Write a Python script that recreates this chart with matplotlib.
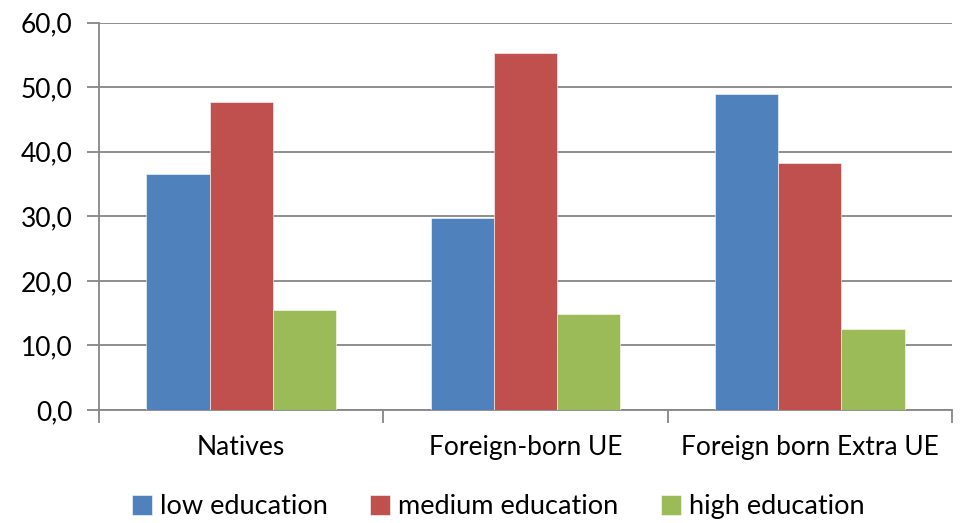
import numpy as np
import matplotlib.pyplot as plt
from matplotlib.ticker import FuncFormatter, FixedLocator

plt.rcParams['font.family'] = ['Lato', 'DejaVu Sans']

# shares by education level (%)
groups = ['Natives', 'Foreign-born UE', 'Foreign born Extra UE']
series = ['low education', 'medium education', 'high education']
low = [36.5, 29.8, 49.0]
medium = [47.7, 55.3, 38.3]
high = [15.5, 14.8, 12.6]
colors = ['#4F81BD', '#C0504D', '#9BBB59']

fig = plt.figure(figsize=(9.6, 5.23), dpi=100)
ax = fig.add_axes([0.1031, 0.2161, 0.8886, 0.7405])

x = np.arange(len(groups))
w = 1 / 4.5
for k, (vals, lab, c) in enumerate(zip([low, medium, high], series, colors)):
    ax.bar(x + (k - 1) * w, vals, width=w, color=c, label=lab,
           edgecolor='white', linewidth=0.4, zorder=3)

grey = '#868686'
ax.set_ylim(0, 60)
ax.set_xlim(-0.5, 2.5)
ax.set_yticks(np.arange(0, 61, 10))
ax.yaxis.set_major_formatter(FuncFormatter(lambda v, p: f'{v:.1f}'.replace('.', ',')))
ax.grid(axis='y', color=grey, linewidth=1.3, zorder=0)

ax.set_xticks(x)
ax.set_xticklabels(groups)
ax.xaxis.set_minor_locator(FixedLocator([-0.5, 0.5, 1.5, 2.5]))
ax.tick_params(axis='x', which='major', length=0, pad=18, labelsize=19)
ax.tick_params(axis='x', which='minor', length=9, width=1.3, color=grey, direction='out')
ax.tick_params(axis='y', length=9, width=1.3, color=grey, labelsize=19, pad=10)

for s in ['top', 'right']:
    ax.spines[s].set_visible(False)
for s in ['left', 'bottom']:
    ax.spines[s].set_color(grey)
    ax.spines[s].set_linewidth(1.3)

ax.legend(loc='center', bbox_to_anchor=(0.468, -0.25), ncol=3, frameon=False,
          fontsize=19.5, handlelength=0.75, handleheight=0.75, handletextpad=0.3,
          columnspacing=1.55, borderaxespad=0)

fig.savefig('out.png', dpi=100)
